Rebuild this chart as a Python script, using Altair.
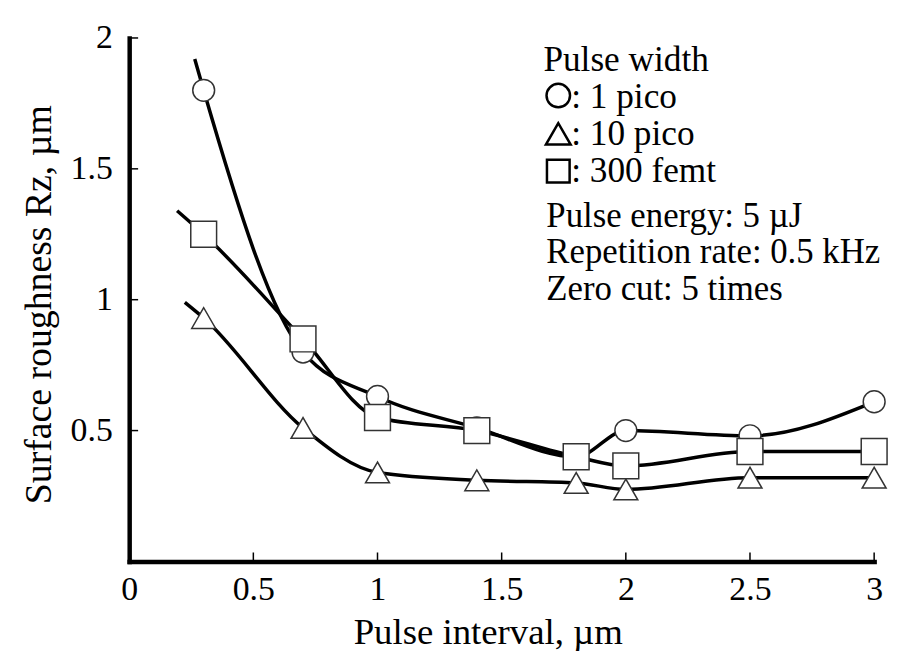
import altair as alt
import pandas as pd

# ---- data ----
pulse_interval = [0.3, 0.7, 1.0, 1.4, 1.8, 2.0, 2.5, 3.0]
rz_1pico = [1.80, 0.80, 0.63, 0.51, 0.40, 0.50, 0.48, 0.61]
rz_10pico = [0.93, 0.51, 0.34, 0.31, 0.30, 0.275, 0.32, 0.32]
rz_300femt = [1.25, 0.85, 0.55, 0.50, 0.40, 0.365, 0.42, 0.42]

series_names = ["1 pico", "10 pico", "300 femt"]
series_values = [rz_1pico, rz_10pico, rz_300femt]
# where each drawn curve begins (left of the first measured point)
curve_start_x = [0.264, 0.224, 0.193]
curve_start_y = [1.92, 0.99, 1.34]

x_ticks = [0, 0.5, 1, 1.5, 2, 2.5, 3]
x_tick_marks = [0.5, 1, 1.5, 2, 2.5, 3]
y_ticks = [0.5, 1, 1.5, 2]

legend_title = "Pulse width"
legend_labels = [": 1 pico", ": 10 pico", ": 300 femt"]
conditions = ["Pulse energy: 5 \u00b5J", "Repetition rate: 0.5 kHz", "Zero cut: 5 times"]

# ---- tables ----
pts_rows, line_rows = [], []
for name, vals, sx, sy in zip(series_names, series_values, curve_start_x, curve_start_y):
    line_rows.append({"series": name, "x": sx, "y": sy, "ord": 0})
    for i, (xv, yv) in enumerate(zip(pulse_interval, vals)):
        pts_rows.append({"series": name, "x": xv, "y": yv})
        line_rows.append({"series": name, "x": xv, "y": yv, "ord": i + 1})
pts = pd.DataFrame(pts_rows)
lines = pd.DataFrame(line_rows)

FONT = "'Liberation Serif', 'Times New Roman', Times, serif"
W, H = 750, 527

xscale = alt.Scale(domain=[0, 3], nice=False, zero=False)
yscale = alt.Scale(domain=[0, 2], nice=False, zero=False)

xaxis = alt.Axis(values=x_ticks, format="~g", ticks=False, grid=False,
                 domainColor="black", domainWidth=4.5, domainCap="square",
                 labelFont=FONT, labelFontSize=34, labelColor="black", labelPadding=11,
                 labelFlush=False,
                 title="Pulse interval, \u00b5m", titleFont=FONT, titleFontSize=37,
                 titleFontWeight="normal", titleColor="black",
                 titleX=361, titleY=83, titleBaseline="alphabetic", titleAlign="center")
yaxis = alt.Axis(values=y_ticks, format="~g", ticks=False, grid=False,
                 domainColor="black", domainWidth=4.5, domainCap="square",
                 labelFont=FONT, labelFontSize=34, labelColor="black", labelPadding=17,
                 labelFlush=False,
                 title="Surface roughness Rz, \u00b5m", titleFont=FONT, titleFontSize=38,
                 titleFontWeight="normal", titleColor="black", titleAngle=270,
                 titleX=-79, titleY=268, titleBaseline="alphabetic", titleAlign="center")

line_layer = alt.Chart(lines).mark_line(
    interpolate="monotone", color="black", strokeWidth=3.5
).encode(
    x=alt.X("x:Q", scale=xscale, axis=xaxis),
    y=alt.Y("y:Q", scale=yscale, axis=yaxis),
    detail="series:N",
    order="ord:Q",
)

point_layer = alt.Chart(pts).mark_point(
    filled=True, fill="white", stroke="#333333", strokeWidth=1.5, opacity=1
).encode(
    x=alt.X("x:Q", scale=xscale),
    y=alt.Y("y:Q", scale=yscale),
    shape=alt.Shape("series:N", scale=alt.Scale(domain=series_names,
                                                 range=["circle", "triangle-up", "square"]),
                    legend=None),
    size=alt.Size("series:N", scale=alt.Scale(domain=series_names, range=[484, 676, 484]),
                  legend=None),
)

xt = alt.Chart(pd.DataFrame({"t": x_tick_marks})).mark_rule(color="black", strokeWidth=1.5).encode(
    x=alt.X("t:Q", scale=xscale), y=alt.value(H), y2=alt.value(H - 9))
yt = alt.Chart(pd.DataFrame({"t": y_ticks})).mark_rule(color="black", strokeWidth=1.5).encode(
    y=alt.Y("t:Q", scale=yscale), x=alt.value(0), x2=alt.value(9))

one = pd.DataFrame({"a": [0]})
anno = []
anno.append(alt.Chart(one).mark_text(font=FONT, fontSize=35.5, align="left",
                                     baseline="alphabetic", color="black").encode(
    x=alt.value(417), y=alt.value(33.5), text=alt.value(legend_title)))
sym_shapes = ["circle", "triangle-up", "square"]
sym_sizes = [560, 620, 520]
sym_y = [58, 96.5, 134]
lab_y = [70.7, 107.5, 145.5]
for shp, sz, sy, lab, ly in zip(sym_shapes, sym_sizes, sym_y, legend_labels, lab_y):
    anno.append(alt.Chart(one).mark_point(filled=False, stroke="black", strokeWidth=2.5,
                                          opacity=1).encode(
        x=alt.value(432), y=alt.value(sy), shape=alt.value(shp), size=alt.value(sz)))
    anno.append(alt.Chart(one).mark_text(font=FONT, fontSize=35.5, align="left",
                                         baseline="alphabetic", color="black").encode(
        x=alt.value(445), y=alt.value(ly), text=alt.value(lab)))
for txt, ly in zip(conditions, [190.5, 227, 263.5]):
    anno.append(alt.Chart(one).mark_text(font=FONT, fontSize=35, align="left",
                                         baseline="alphabetic", color="black").encode(
        x=alt.value(420), y=alt.value(ly), text=alt.value(txt)))

chart = alt.layer(line_layer, xt, yt, point_layer, *anno).properties(
    width=W, height=H,
    autosize=alt.AutoSizeParams(type="none"),
    padding={"left": 122, "top": 28, "right": 22, "bottom": 88},
    background="white",
).configure_view(stroke=None)

chart.save("out.html", embed_options={"renderer": "svg", "actions": False})
